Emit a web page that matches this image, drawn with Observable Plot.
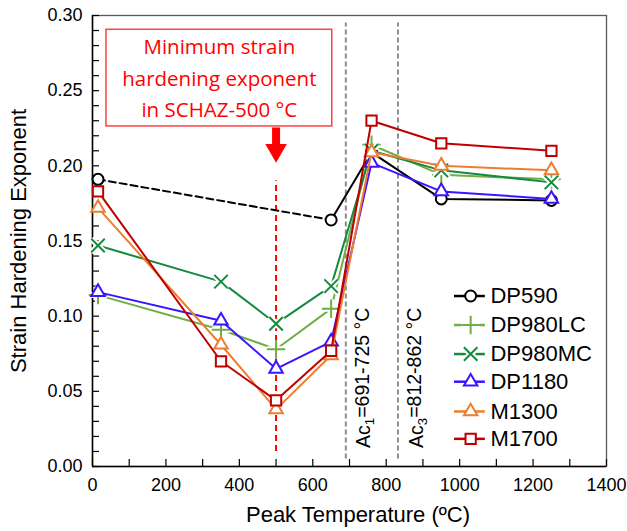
<!DOCTYPE html>
<html><head><meta charset="utf-8">
<script src="https://cdn.jsdelivr.net/npm/d3@7"></script>
<script src="https://cdn.jsdelivr.net/npm/@observablehq/plot@0.6"></script>
<style>body{margin:0;background:#fff} #chart{width:627px;height:531px}</style>
</head><body><div id="chart"></div>
<script>
// ---- data ----
const seriesNames = ["DP590", "DP980LC", "DP980MC", "DP1180", "M1300", "M1700"];
const seriesColors = ["#000000", "#70ad47", "#138a3e", "#3a14ff", "#ed7d31", "#c00000"];
const seriesSymbols = ["circle", "plus", "times", "triangle", "triangle", "square"];
const seriesR = [5.5, 6.0, 6.2, 5.0, 5.0, 5.8];
const tempsAll = [15, 350, 500, 650, 760, 950, 1250];
const tempsDP590 = [15, 650, 760, 950, 1250];
const DP590 = [0.191, 0.164, 0.209, 0.178, 0.177];
const DP980LC = [0.114, 0.091, 0.078, 0.105, 0.214, 0.194, 0.191];
const DP980MC = [0.147, 0.123, 0.095, 0.120, 0.210, 0.197, 0.189];
const DP1180 = [0.116, 0.097, 0.065, 0.083, 0.202, 0.183, 0.178];
const M1300 = [0.172, 0.081, 0.038, 0.074, 0.209, 0.200, 0.197];
const M1700 = [0.183, 0.070, 0.044, 0.077, 0.230, 0.215, 0.210];
const xTicks = [0, 200, 400, 600, 800, 1000, 1200, 1400];
const xMinorTicks = [100, 300, 500, 700, 900, 1100, 1300];
const yTicks = [0, 0.05, 0.10, 0.15, 0.20, 0.25, 0.30];
const yMinorTicks = d3.range(1, 30).map(i => i / 100).filter(v => Math.round(v * 100) % 5 !== 0);
const acLines = [690, 832];
const acLabels = ["Ac1=691-725 °C", "Ac3=812-862 °C"];
const acLabelX = [740, 884];
const minTemp = [500];
const annotationLines = ["Minimum strain", "hardening exponent", "in SCHAZ-500 °C"];
const annotationLineY = [0.2788, 0.2578, 0.2370];
const annotationBox = {x1: 38, x2: 653, y1: 0.2262, y2: 0.2905};
const legendY = [0.1134, 0.0941, 0.0748, 0.0564, 0.0366, 0.0184];
const legendX = {x1: 986, x2: 1070, marker: 1030, text: 1084};
const xLabel = "Peak Temperature (ºC)";
const yLabel = "Strain Hardening Exponent";

// ---- build table ----
const valueArrays = [DP590, DP980LC, DP980MC, DP1180, M1300, M1700];
const points = [];
valueArrays.forEach((vals, si) => {
  const temps = si === 0 ? tempsDP590 : tempsAll;
  vals.forEach((v, i) => points.push({series: seriesNames[si], si, t: temps[i], v, i}));
});

const W = 627, H = 531, mL = 92, mR = 21, mT = 15, mB = 65;
const plotW = W - mL - mR, plotH = H - mT - mB;
const font = "Liberation Sans, Arial, sans-serif";

const marks = [];
// frame
marks.push(Plot.frame({stroke: "#595959", strokeWidth: 1.3}));
// inward ticks
marks.push(Plot.tickX(xTicks.concat(xMinorTicks), {x: d => d, insetTop: plotH - 7, stroke: "#000", strokeWidth: 1.2}));
marks.push(Plot.tickY(yTicks.concat(yMinorTicks), {y: d => d, insetRight: plotW - 7, stroke: "#000", strokeWidth: 1.2}));
marks.push(Plot.ruleX([0], {stroke: "#000", strokeWidth: 1.5}));
marks.push(Plot.ruleY([0], {stroke: "#000", strokeWidth: 1.5}));
// Ac lines
marks.push(Plot.ruleX(acLines, {x: d => d, y1: 0.005, y2: 0.295, stroke: "#8c8c8c", strokeWidth: 2, strokeDasharray: "5,3"}));
marks.push(Plot.text(acLabels, {x: (d, i) => acLabelX[i], y: 0.059, text: d => d, rotate: -90, fontSize: 19.5, fill: "#000", fontFamily: font}));
// min red dashed line
marks.push(Plot.ruleX(minTemp, {x: d => d, y1: 0.01, y2: 0.19, stroke: "#ff0000", strokeWidth: 2, strokeDasharray: "6,4"}));
// arrow
marks.push(Plot.ruleX(minTemp, {x: d => d, y1: 0.2142, y2: 0.2252, stroke: "#ff0000", strokeWidth: 8}));
marks.push(Plot.dot(minTemp, {x: d => d, y: 0.2104, symbol: "triangle", r: 8, rotate: 180, fill: "#ff0000", stroke: "none"}));
// annotation box
marks.push(Plot.rect([annotationBox], {x1: "x1", x2: "x2", y1: "y1", y2: "y2", fill: "#fff", stroke: "#ff4040", strokeWidth: 1.5}));
marks.push(Plot.text(annotationLines, {x: (annotationBox.x1 + annotationBox.x2) / 2, y: (d, i) => annotationLineY[i], text: d => d, fill: "#ff0000", fontSize: 20.5, fontFamily: "Open Sans, Lato, sans-serif"}));

// series
seriesNames.forEach((name, si) => {
  const pts = points.filter(p => p.si === si);
  const color = seriesColors[si];
  if (si === 0) {
    marks.push(Plot.line(pts.filter(p => p.i <= 1), {x: "t", y: "v", stroke: color, strokeWidth: 2, strokeDasharray: "7,4"}));
    marks.push(Plot.line(pts.filter(p => p.i >= 1), {x: "t", y: "v", stroke: color, strokeWidth: 2}));
  } else {
    marks.push(Plot.line(pts, {x: "t", y: "v", stroke: color, strokeWidth: 2}));
  }
  const sym = seriesSymbols[si];
  const open = sym === "plus" || sym === "times";
  if (open) marks.push(Plot.dot(pts, {x: "t", y: "v", symbol: sym, r: seriesR[si], stroke: "#fff", strokeWidth: 6}));
  marks.push(Plot.dot(pts, {x: "t", y: "v", symbol: sym, r: seriesR[si], stroke: color, strokeWidth: 2, fill: open ? "none" : "#fff"}));
});

// legend
const legendRows = seriesNames.map((name, si) => ({name, si, y: legendY[si]}));
marks.push(Plot.ruleY(legendRows, {y: "y", x1: legendX.x1, x2: legendX.x2, stroke: d => seriesColors[d.si], strokeWidth: 2.5}));
legendRows.forEach(row => {
  const sym = seriesSymbols[row.si];
  const open = sym === "plus" || sym === "times";
  if (open) marks.push(Plot.dot([row], {x: legendX.marker, y: "y", symbol: sym, r: seriesR[row.si], stroke: "#fff", strokeWidth: 6}));
  marks.push(Plot.dot([row], {x: legendX.marker, y: "y", symbol: sym, r: seriesR[row.si], stroke: seriesColors[row.si], strokeWidth: 2, fill: open ? "none" : "#fff"}));
});
marks.push(Plot.text(legendRows, {x: legendX.text, y: "y", text: "name", textAnchor: "start", fontSize: 22, fill: "#000", fontFamily: font}));

// axes
marks.push(Plot.axisX(xTicks, {tickSize: 0, tickPadding: 12, fontSize: 18, label: null, tickFormat: d => String(d), fontFamily: font, fill: "#000"}));
marks.push(Plot.axisY(yTicks, {tickSize: 0, tickPadding: 10, fontSize: 18, label: null, tickFormat: d => d.toFixed(2), fontFamily: font, fill: "#000"}));
marks.push(Plot.text([xLabel], {frameAnchor: "bottom", dy: 55, dx: 8.5, textAnchor: "middle", text: d => d, fontSize: 22, fill: "#000", fontFamily: font}));
marks.push(Plot.text([yLabel], {frameAnchor: "left", dx: -74, rotate: -90, textAnchor: "middle", text: d => d, fontSize: 22, fill: "#000", fontFamily: font}));

const chart = Plot.plot({
  width: W, height: H,
  marginLeft: mL, marginRight: mR, marginTop: mT, marginBottom: mB,
  x: {domain: [0, 1400]},
  y: {domain: [0, 0.30]},
  style: {fontFamily: font, background: "#fff", color: "#000"},
  marks
});

// subscripts for Ac labels
d3.select(chart).selectAll("text").each(function () {
  const t = this.textContent;
  const m = t.match(/^Ac(\d)(=.*)$/);
  if (m && this.childElementCount === 0) {
    const sel = d3.select(this);
    sel.text(null);
    sel.append("tspan").text("Ac");
    sel.append("tspan").attr("font-size", "68%").attr("dy", "0.3em").text(m[1]);
    sel.append("tspan").attr("dy", "-0.3em").text(m[2]);
  }
});

document.getElementById("chart").appendChild(chart);
</script>
</body></html>
